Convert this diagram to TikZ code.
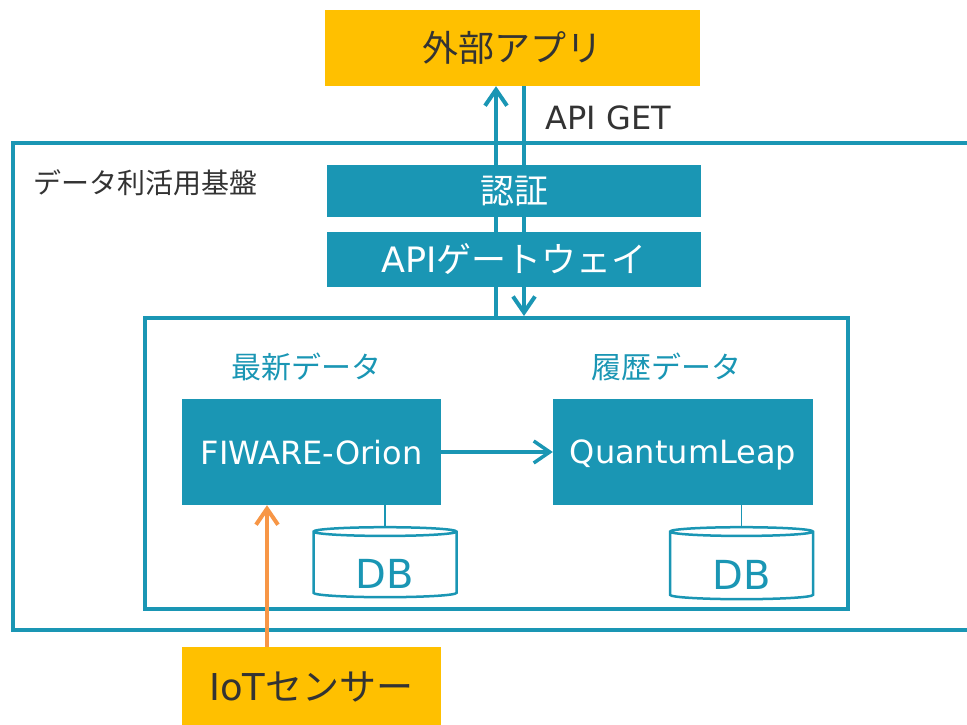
\documentclass[tikz,border=0pt]{standalone}
\usepackage{fontspec}
\setmainfont{Noto Sans CJK JP}
\newfontfamily\latfont{DejaVu Sans}
\usetikzlibrary{arrows.meta,shapes.geometric}
\definecolor{fwteal}{HTML}{1A96B4}
\definecolor{fwgold}{HTML}{FFC000}
\definecolor{fworange}{HTML}{F79646}
\definecolor{fwtext}{HTML}{333333}
\newcommand{\fsz}[1]{\fontsize{#1}{#1}\selectfont}

\begin{document}
\begin{tikzpicture}[x=1pt,y=-1pt,
    frame/.style={draw=fwteal,line width=4pt},
    goldbox/.style={fill=fwgold,text=fwtext,inner sep=0pt},
    tealbox/.style={fill=fwteal,text=white,inner sep=0pt},
    dbcyl/.style={cylinder,shape border rotate=90,aspect=0.15,draw=fwteal,line width=2.5pt,
        fill=white,text=fwteal,minimum width=143pt,minimum height=70pt,inner sep=0pt,
        text height=46pt,text depth=0pt,font=\latfont\fsz{40}},
    flow/.style={draw=fwteal,line width=4pt,-{Straight Barb[length=16pt,width=22pt]}},
    sensorflow/.style={draw=fworange,line width=4pt,-{Straight Barb[length=16pt,width=22pt]}},
    dblink/.style={draw=fwteal,line width=1.5pt}]
    \useasboundingbox (0,0) rectangle (967,725);
    \clip (0,0) rectangle (967,725);
    % platform frames
    \draw[frame] (13,143) rectangle (995,630);
    \node[anchor=west,text=fwtext,font=\fsz{28}] (platform) at (30,183) {データ利活用基盤};
    \node[frame,minimum width=703pt,minimum height=291pt] (core) at (496.5,463.5) {};
    \node[goldbox,minimum width=375pt,minimum height=76pt,font=\fsz{36}] (app) at (512.5,48) {外部アプリ};
    \node[anchor=west,text=fwtext,font=\latfont\fsz{32}] (getlbl) at (542,118) {API GET};
    % request / response
    \coordinate (upx) at (496,0);
    \coordinate (downx) at (524,0);
    \draw[flow] (core.north -| upx) -- (app.south -| upx);
    \draw[flow] (app.south -| downx) -- (core.north -| downx);
    \node[tealbox,minimum width=374pt,minimum height=52pt,font=\fsz{34}] (auth) at (514,191) {認証};
    \node[tealbox,minimum width=374pt,minimum height=55pt,font=\fsz{35}] (gw) at (514,259.5) {{\latfont API}ゲートウェイ};
    % data stores
    \node[text=fwteal,font=\fsz{30}] (latest) at (306,367) {最新データ};
    \node[text=fwteal,font=\fsz{30}] (history) at (666,367) {履歴データ};
    \node[tealbox,minimum width=259pt,minimum height=106pt,text depth=0pt,font=\latfont\fsz{32}] (orion) at (311.5,452) {FIWARE-Orion};
    \node[tealbox,minimum width=260pt,minimum height=106pt,text depth=0pt,font=\latfont\fsz{32}] (ql) at (683,452) {QuantumLeap};
    \draw[flow,line width=3.5pt] (orion) -- (ql);
    \node[dbcyl] (db1) at (385,565) {DB};
    \node[dbcyl,minimum height=72pt] (db2) at (741.5,566) {DB};
    \draw[dblink] (orion.south -| db1) -- (db1.north);
    \draw[dblink] (ql.south -| db2) -- (db2.north);
    % sensor
    \node[goldbox,minimum width=259pt,minimum height=80pt,font=\fsz{37}] (iot) at (311.5,687) {{\latfont IoT}センサー};
    \coordinate (sensx) at (267,0);
    \draw[sensorflow] (iot.north -| sensx) -- (orion.south -| sensx);
\end{tikzpicture}
\end{document}
